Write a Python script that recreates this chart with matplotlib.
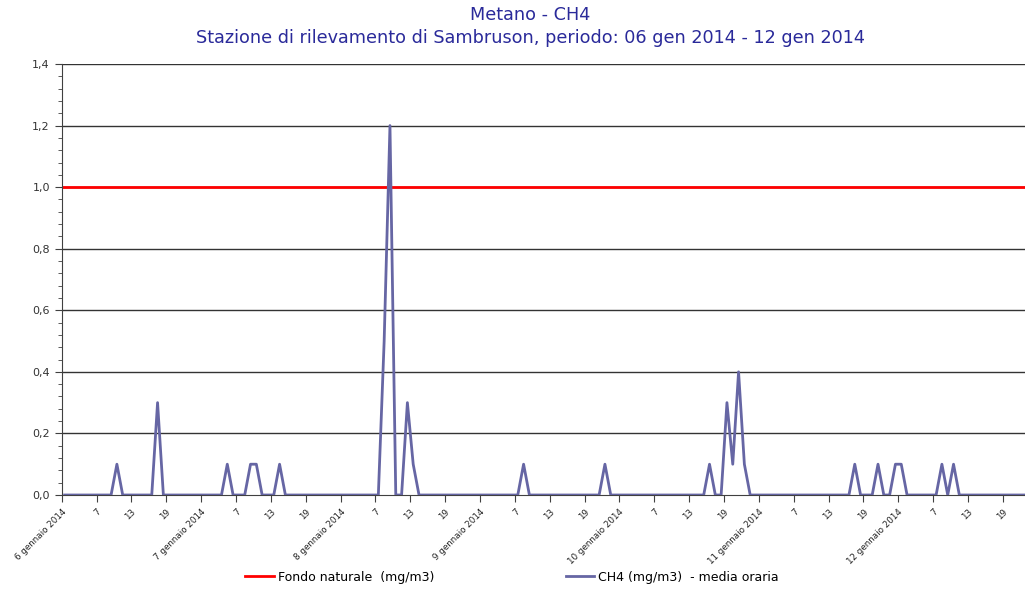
import matplotlib.pyplot as plt
from matplotlib.ticker import MultipleLocator

# Hourly CH4 averages (mg/m3), one list per day, hours 1..24
day_06 = [0, 0, 0, 0, 0, 0, 0, 0, 0, 0.1, 0, 0, 0, 0, 0, 0, 0.3, 0, 0, 0, 0, 0, 0, 0]
day_07 = [0, 0, 0, 0, 0.1, 0, 0, 0, 0.1, 0.1, 0, 0, 0, 0.1, 0, 0, 0, 0, 0, 0, 0, 0, 0, 0]
day_08 = [0, 0, 0, 0, 0, 0, 0, 0.5, 1.2, 0, 0, 0.3, 0.1, 0, 0, 0, 0, 0, 0, 0, 0, 0, 0, 0]
day_09 = [0, 0, 0, 0, 0, 0, 0, 0.1, 0, 0, 0, 0, 0, 0, 0, 0, 0, 0, 0, 0, 0, 0.1, 0, 0]
day_10 = [0, 0, 0, 0, 0, 0, 0, 0, 0, 0, 0, 0, 0, 0, 0, 0.1, 0, 0, 0.3, 0.1, 0.4, 0.1, 0, 0]
day_11 = [0, 0, 0, 0, 0, 0, 0, 0, 0, 0, 0, 0, 0, 0, 0, 0, 0.1, 0, 0, 0, 0.1, 0, 0, 0.1]
day_12 = [0.1, 0, 0, 0, 0, 0, 0, 0.1, 0, 0.1, 0, 0, 0, 0, 0, 0, 0, 0, 0, 0, 0, 0, 0, 0]

ch4 = day_06 + day_07 + day_08 + day_09 + day_10 + day_11 + day_12
fondo_naturale = 1.0

day_labels = ['6 gennaio 2014', '7 gennaio 2014', '8 gennaio 2014', '9 gennaio 2014',
              '10 gennaio 2014', '11 gennaio 2014', '12 gennaio 2014']
hour_labels = ['7', '13', '19']
y_ticks = [0.0, 0.2, 0.4, 0.6, 0.8, 1.0, 1.2, 1.4]
y_labels = ['0,0', '0,2', '0,4', '0,6', '0,8', '1,0', '1,2', '1,4']

line_col = '#6666A4'
title_col = '#2A2A9A'

fig = plt.figure(figsize=(10.25, 5.89), dpi=100)
ax = fig.add_axes([61.7 / 1025, 1 - 495 / 589, 1 - 61.7 / 1025, 431 / 589])

# x positions: each hourly value sits between the 6-hour ticks
x = [i + 0.5 for i in range(len(ch4))]

ax.plot(x, ch4, color=line_col, lw=2, zorder=3, label='CH4 (mg/m3)  - media oraria')
ax.axhline(fondo_naturale, color='red', lw=2, zorder=2, label='Fondo naturale  (mg/m3)')

# horizontal grid
for yv in y_ticks[1:]:
    ax.axhline(yv, color='#333333', lw=1, zorder=1)

ax.set_xlim(0, (1025 - 61.7) / 5.81)
ax.set_ylim(0, 1.4)

ax.set_yticks(y_ticks)
ax.set_yticklabels(y_labels, fontsize=8, color='#333333')
ax.yaxis.set_minor_locator(MultipleLocator(0.04))
ax.tick_params(axis='y', which='major', length=5, color='#404040')
ax.tick_params(axis='y', which='minor', length=3, color='#404040')

xt = list(range(0, 168, 6))
xl = []
for t in xt:
    if t % 24 == 0:
        xl.append(day_labels[t // 24])
    else:
        xl.append(hour_labels[(t % 24) // 6 - 1])
ax.set_xticks(xt)
ax.set_xticklabels(xl, fontsize=6.3, rotation=45, ha='right', va='top',
                   rotation_mode='anchor', color='#222222')
ax.tick_params(axis='x', length=5, color='#404040', pad=4)

for s in ['top', 'right']:
    ax.spines[s].set_visible(False)
ax.spines['left'].set_color('#404040')
ax.spines['bottom'].set_color('#404040')

fig.text(530 / 1025, 1 - 15 / 589, 'Metano - CH4', ha='center', va='center',
         fontsize=12.7, color=title_col)
fig.text(530 / 1025, 1 - 38 / 589,
         'Stazione di rilevamento di Sambruson, periodo: 06 gen 2014 - 12 gen 2014',
         ha='center', va='center', fontsize=12.7, color=title_col)

handles, labels = ax.get_legend_handles_labels()
fig.legend(handles[::-1], labels[::-1], loc='center', bbox_to_anchor=(512 / 1025, 1 - 577 / 589),
           ncol=2, frameon=False, fontsize=9, handlelength=2.3, columnspacing=10.5,
           handletextpad=0.3)

fig.savefig('out.png', dpi=100)
